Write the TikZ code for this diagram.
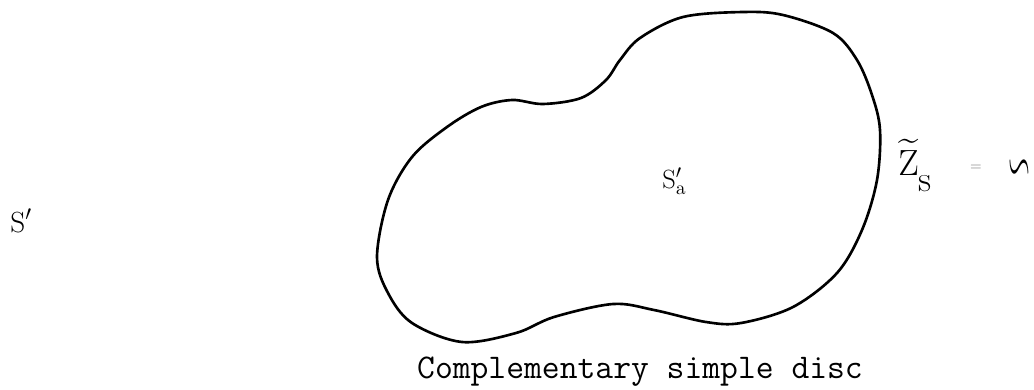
\documentclass[tikz,border=0pt]{standalone}
\usepackage{amsmath,amssymb}
\usepackage{graphicx}
\usepackage{tikz}
\definecolor{discgray}{HTML}{888888}

\begin{document}
\begin{tikzpicture}[x=0.02cm,y=-0.02cm,
   lbl/.style={inner sep=0pt,anchor=base west},
   capt/.style={inner sep=0pt,anchor=base,
                font=\ttfamily\fontsize{19.7}{24}\selectfont},
   rim/.style={line width=1.5pt,line join=round}]
  \useasboundingbox (0,0) rectangle (1034,389);
  \draw[rim] plot[smooth cycle,tension=0.55] coordinates {
    (377,257) (388,293) (412,323) (462,342) (516,333) (554,317)
    (613,304) (654,310) (706,322) (741,323) (793,307) (837,273)
    (862,230) (877,180) (880,130) (872,95) (857,60) (833,33)
    (783,15) (743,12) (683,17) (640,38) (620,60) (606,80)
    (581,98) (543,104) (512,100) (481,107) (447,127) (412,157)
    (388,200)};
  \node[lbl,font=\fontsize{16.6}{20}\selectfont] (outer) at (10,232) {S$'$};
  \node[lbl,font=\fontsize{15}{18}\selectfont] (inner) at (662,188) {S$'_{\mathrm{a}}$};
  \node[lbl,font=\fontsize{20.7}{24}\selectfont] (zs) at (898,175)
       {$\widetilde{\mathrm{Z}}$\raisebox{-9.6pt}{s}};
  \node[inner sep=0pt,font=\fontsize{8}{10}\selectfont,text=discgray] (eq) at (976,168) {=};
  \node[inner sep=0pt,font=\fontsize{16}{20}\selectfont] (inf) at (1019,171)
       {\scalebox{1}[2.2]{$\backsim$}};
  \node[capt] (caption) at (640,378) {Complementary simple disc};
\end{tikzpicture}
\end{document}
